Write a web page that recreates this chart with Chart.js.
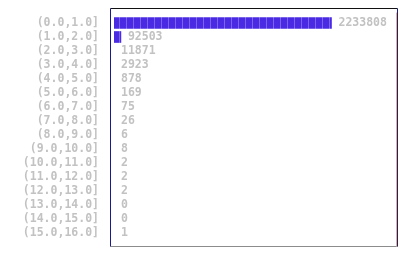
<!DOCTYPE html>
<html>
<head>
<meta charset="utf-8">
<script src="https://cdn.jsdelivr.net/npm/chart.js@4"></script>
<style>
  html, body { margin: 0; padding: 0; background: #fff; }
  #wrap { width: 419px; height: 266px; }
</style>
</head>
<body>
<div id="wrap"><canvas id="chart" width="419" height="266"></canvas></div>
<script>
const bins = ["(0.0,1.0]", "(1.0,2.0]", "(2.0,3.0]", "(3.0,4.0]", "(4.0,5.0]", "(5.0,6.0]",
  "(6.0,7.0]", "(7.0,8.0]", "(8.0,9.0]", "(9.0,10.0]", "(10.0,11.0]", "(11.0,12.0]",
  "(12.0,13.0]", "(13.0,14.0]", "(14.0,15.0]", "(15.0,16.0]"];
const counts = [2233808, 92503, 11871, 2923, 878, 169, 75, 26, 6, 8, 2, 2, 2, 0, 0, 1];

const monoFont = { family: "'DejaVu Sans Mono', monospace", size: 11.5, weight: "bold" };
const textGray = "#c2c2c2";
const maxCount = Math.max(...counts);

// striped fill like the original bars
function stripePattern() {
  const c = document.createElement("canvas");
  c.width = 7; c.height = 4;
  const g = c.getContext("2d");
  g.fillStyle = "#4a2be3";
  g.fillRect(0, 0, 7, 4);
  g.fillStyle = "#7c64ec";
  g.fillRect(0, 0, 1, 4);
  return g.createPattern(c, "repeat");
}

const frameBox = {
  id: "frameBox",
  afterDraw(chart) {
    const { ctx, chartArea: a } = chart;
    const l = a.left - 3.5, r = a.right + 4.5, t = a.top - 7.5, b = a.bottom + 6.5;
    ctx.save();
    ctx.lineWidth = 1;
    ctx.strokeStyle = "#111";
    ctx.beginPath(); ctx.moveTo(l, t); ctx.lineTo(r, t); ctx.stroke();
    ctx.strokeStyle = "#8c8c8c";
    ctx.beginPath(); ctx.moveTo(l, b); ctx.lineTo(r, b); ctx.stroke();
    ctx.strokeStyle = "#1a1a8c";
    ctx.beginPath(); ctx.moveTo(l, t); ctx.lineTo(l, b); ctx.stroke();
    ctx.beginPath(); ctx.moveTo(r, t); ctx.lineTo(r, b); ctx.stroke();
    ctx.strokeStyle = "#e8b46a";
    ctx.beginPath(); ctx.moveTo(r - 1, t + 4); ctx.lineTo(r - 1, b); ctx.stroke();
    ctx.restore();
  }
};

const valueLabels = {
  id: "valueLabels",
  afterDatasetsDraw(chart) {
    const { ctx, chartArea } = chart;
    const meta = chart.getDatasetMeta(0);
    ctx.save();
    ctx.font = "bold 11.5px 'DejaVu Sans Mono', monospace";
    ctx.fillStyle = textGray;
    ctx.textBaseline = "middle";
    ctx.textAlign = "left";
    meta.data.forEach((bar, i) => {
      ctx.fillText(String(counts[i]), Math.max(bar.x, chartArea.left) + 7, bar.y);
    });
    ctx.restore();
  }
};

new Chart(document.getElementById("chart"), {
  type: "bar",
  data: {
    labels: bins,
    datasets: [{
      data: counts,
      backgroundColor: stripePattern(),
      borderWidth: 0,
      barThickness: 11
    }]
  },
  options: {
    indexAxis: "y",
    responsive: false,
    animation: false,
    layout: { padding: { top: 16, bottom: 26, left: 0, right: 26 } },
    plugins: { legend: { display: false }, tooltip: { enabled: false } },
    scales: {
      x: {
        display: false,
        bounds: "data",
        min: maxCount * 0.01,
        max: maxCount * 1.28
      },
      y: {
        grid: { display: false, drawTicks: false },
        border: { display: false },
        ticks: { font: monoFont, color: textGray, padding: 15, autoSkip: false },
        afterFit(scale) {
          scale.width = 114;
          scale.paddingTop = 0;
          scale.paddingBottom = 0;
        }
      }
    }
  },
  plugins: [frameBox, valueLabels]
});
</script>
</body>
</html>
